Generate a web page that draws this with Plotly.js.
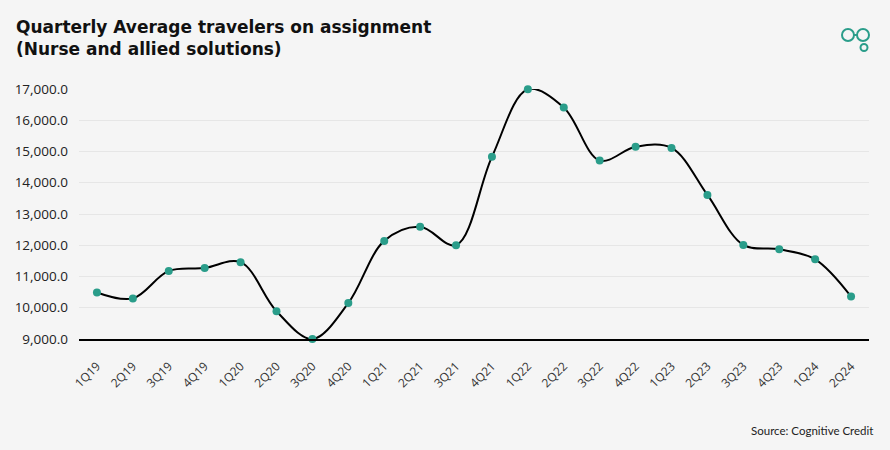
<!DOCTYPE html>
<html><head><meta charset="utf-8">
<script src="https://cdn.plot.ly/plotly-3.0.1.min.js"></script>
<style>html,body{margin:0;padding:0;background:#f5f5f5;}</style>
</head><body><div id="chart" style="width:890px;height:450px;"></div>
<script>
const quarters = ["1Q19","2Q19","3Q19","4Q19","1Q20","2Q20","3Q20","4Q20","1Q21","2Q21","3Q21","4Q21","1Q22","2Q22","3Q22","4Q22","1Q23","2Q23","3Q23","4Q23","1Q24","2Q24"];
const travelers = [10490,10300,11180,11270,11460,9890,9000,10150,12140,12590,12000,14830,16990,16410,14710,15150,15115,13610,12010,11870,11550,10360];
const yTicks = [9000,10000,11000,12000,13000,14000,15000,16000,17000];
const titleText = "Quarterly Average travelers on assignment<br>(Nurse and allied solutions)";
const sourceText = "Source: Cognitive Credit";

const teal = "#2a9d8a";
const trace = {
  x: quarters, y: travelers, type: "scatter", mode: "lines+markers",
  line: {shape: "spline", smoothing: 1, color: "#000", width: 2},
  marker: {color: teal, size: 8},
  cliponaxis: false, hoverinfo: "x+y"
};
const layout = {
  width: 890, height: 450,
  paper_bgcolor: "#f5f5f5", plot_bgcolor: "#f5f5f5",
  margin: {l: 79, r: 21, t: 89, b: 111},
  showlegend: false,
  xaxis: {type: "category", range: [-0.5, quarters.length - 0.5], showgrid: false, zeroline: false,
    showline: true, linecolor: "#000", linewidth: 1.5, ticks: "", tickangle: -45,
    ticklabelstandoff: 14,
    tickfont: {family: "Open Sans, sans-serif", size: 12, color: "#333"}},
  yaxis: {range: [9000, 17000], tickvals: yTicks, tickformat: ",.1f", showgrid: true,
    gridcolor: "#e6e6e6", gridwidth: 1, zeroline: false, showline: false, ticks: "", ticklen: 0,
    ticklabelstandoff: 10,
    tickfont: {family: "Open Sans, sans-serif", size: 13.5, color: "#222"}},
  annotations: [
    {text: titleText, xref: "paper", yref: "paper", x: 0, y: 1, xanchor: "left", yanchor: "top",
     align: "left", xshift: -65, yshift: 74, showarrow: false,
     font: {family: "DejaVu Sans, sans-serif", size: 17, color: "#111", weight: "bold"}},
    {text: sourceText, xref: "paper", yref: "paper", x: 1, y: 0,
    xanchor: "right", yanchor: "middle", xshift: 6, yshift: -91, showarrow: false,
    font: {family: "Lato, sans-serif", size: 11.5, color: "#222"}}],
  shapes: [
    {type: "circle", xref: "paper", yref: "paper", xsizemode: "pixel", ysizemode: "pixel",
     xanchor: 1, yanchor: 1, x0: 848-869-6, x1: 848-869+6, y0: 89-35-6, y1: 89-35+6,
     line: {color: teal, width: 2}},
    {type: "circle", xref: "paper", yref: "paper", xsizemode: "pixel", ysizemode: "pixel",
     xanchor: 1, yanchor: 1, x0: 863-869-6, x1: 863-869+6, y0: 89-35-6, y1: 89-35+6,
     line: {color: teal, width: 2}},
    {type: "line", xref: "paper", yref: "paper", xsizemode: "pixel", ysizemode: "pixel",
     xanchor: 1, yanchor: 1, x0: 854-869, x1: 857-869, y0: 89-35, y1: 89-35,
     line: {color: teal, width: 2}},
    {type: "circle", xref: "paper", yref: "paper", xsizemode: "pixel", ysizemode: "pixel",
     xanchor: 1, yanchor: 1, x0: 864-869-3.5, x1: 864-869+3.5, y0: 89-47.5-3.5, y1: 89-47.5+3.5,
     line: {color: teal, width: 2}}
  ]
};
Plotly.newPlot("chart", [trace], layout, {displayModeBar: false, staticPlot: true});
</script></body></html>
